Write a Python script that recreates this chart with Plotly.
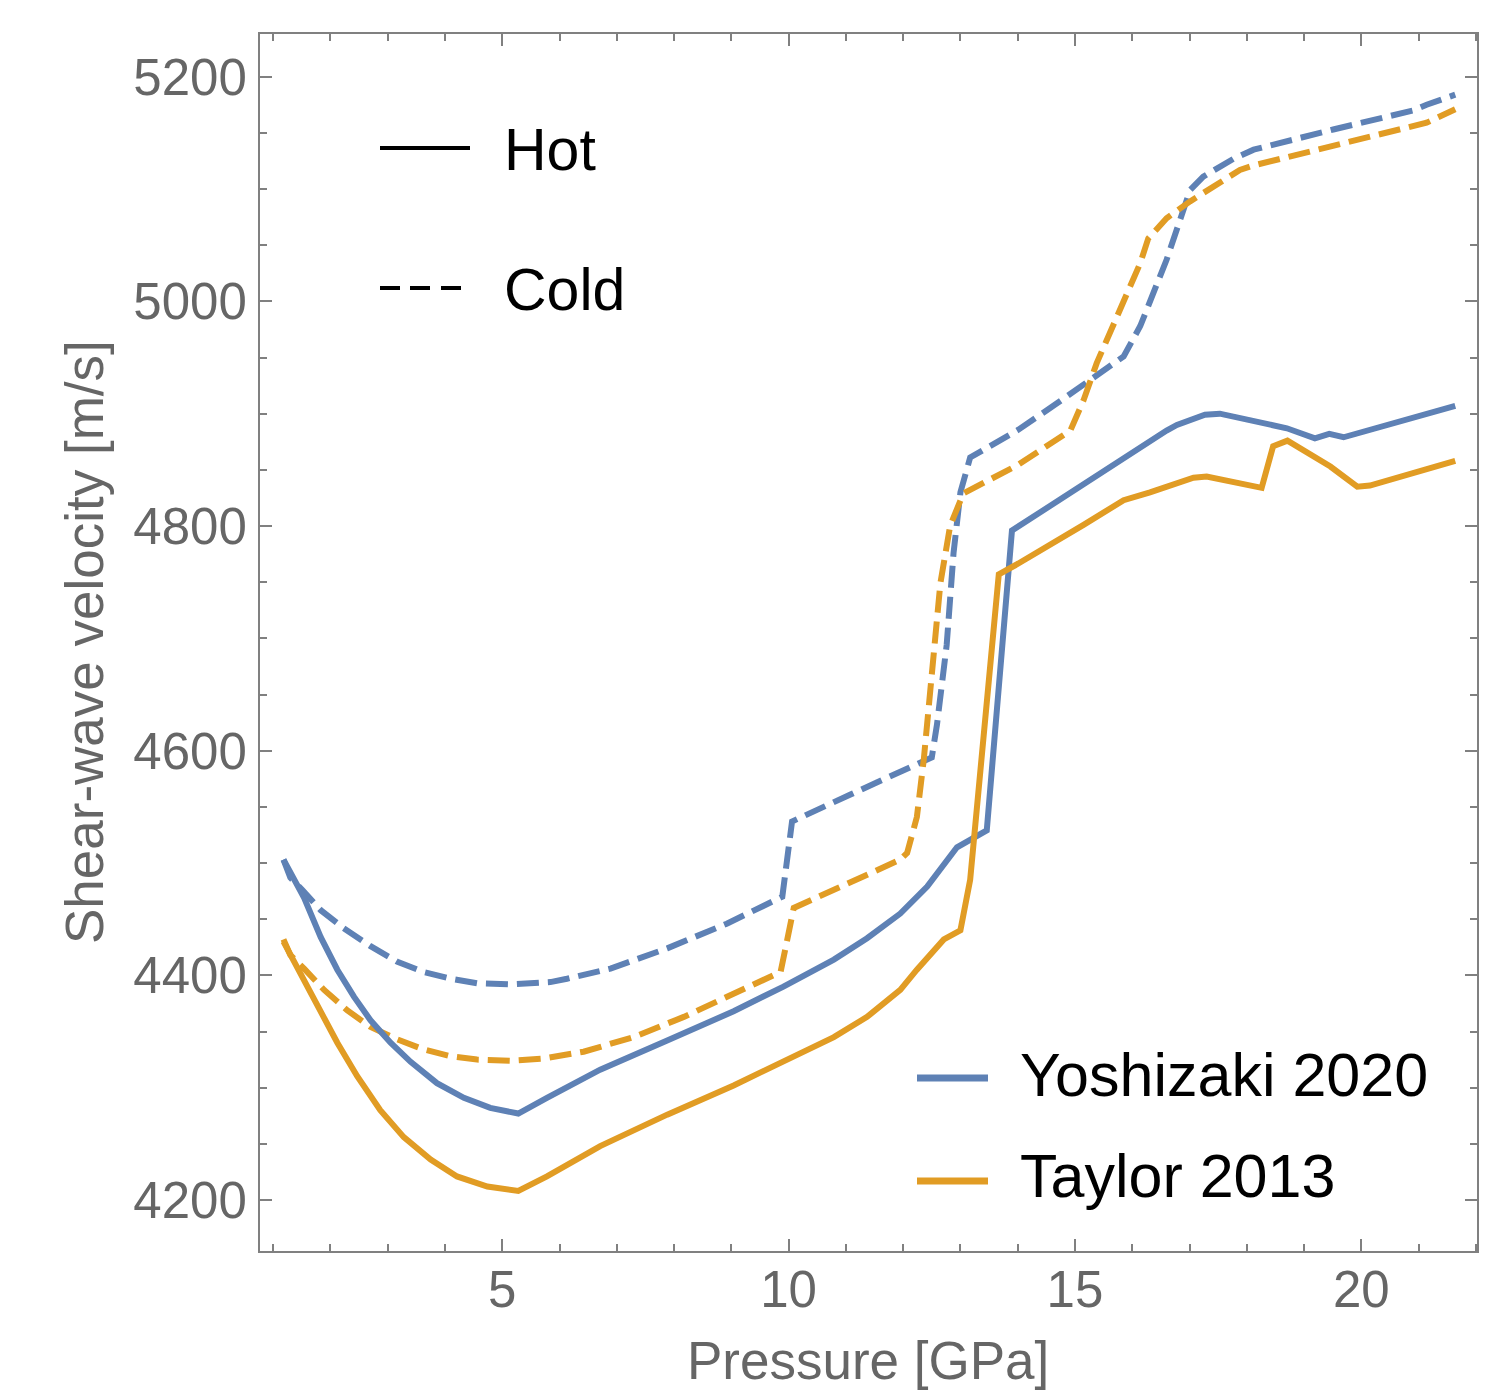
import plotly.graph_objects as go

# ---------------- data ----------------
yoshi_hot_p = [1.18, 1.54, 1.83, 2.12, 2.41, 2.70, 3.05, 3.40, 3.86, 4.33, 4.79, 5.28, 5.78,
               6.71, 7.88, 9.04, 9.91, 10.79, 11.37, 11.95, 12.42, 12.94, 13.46, 13.90, 14.57,
               15.50, 16.60, 16.78, 17.27, 17.53, 18.12, 18.70, 19.19, 19.44, 19.69, 21.64]
yoshi_hot_v = [4503, 4469, 4434, 4405, 4381, 4360, 4340, 4323, 4304, 4291, 4282, 4277, 4291,
               4316, 4342, 4368, 4390, 4414, 4433, 4455, 4479, 4514, 4529, 4796, 4818,
               4849, 4885, 4890, 4899, 4900, 4894, 4887, 4878, 4882, 4879, 4907]

yoshi_cold_p = [1.18, 1.30, 1.51, 1.83, 2.23, 2.70, 3.17, 3.63, 4.10, 4.56, 5.14, 5.84, 6.13,
                6.89, 7.88, 8.92, 9.89, 10.06, 11.08, 12.36, 12.50, 12.59, 12.76, 12.88, 13.00,
                13.17, 13.99, 14.68, 15.27, 15.85, 16.14, 16.60, 17.01, 17.24, 17.77, 18.12,
                19.51, 20.91, 21.14, 21.64]
yoshi_cold_v = [4503, 4487, 4476, 4458, 4442, 4426, 4412, 4403, 4397, 4393, 4392, 4394, 4397,
                4406, 4424, 4446, 4470, 4537, 4561, 4592, 4594, 4623, 4694, 4776, 4830,
                4861, 4885, 4909, 4930, 4951, 4978, 5037, 5099, 5111, 5127, 5135,
                5153, 5170, 5175, 5184]

taylor_hot_p = [1.18, 1.54, 1.83, 2.12, 2.47, 2.87, 3.28, 3.75, 4.21, 4.74, 5.28, 5.78, 6.71,
                7.88, 9.04, 9.91, 10.79, 11.37, 11.95, 12.24, 12.71, 13.00, 13.17, 13.67, 13.99,
                15.15, 15.85, 16.31, 17.07, 17.30, 18.26, 18.46, 18.71, 19.46, 19.93, 20.15, 21.64]
taylor_hot_v = [4430, 4396, 4366, 4340, 4310, 4280, 4256, 4236, 4221, 4212, 4208, 4221, 4248,
                4276, 4302, 4323, 4345, 4363, 4387, 4405, 4432, 4440, 4485, 4757, 4766,
                4801, 4823, 4830, 4843, 4844, 4834, 4871, 4876, 4853, 4835, 4836, 4858]

taylor_cold_p = [1.18, 1.30, 1.54, 1.89, 2.29, 2.70, 3.17, 3.63, 4.10, 4.56, 5.14, 5.72, 6.42,
                 7.29, 8.17, 9.04, 9.86, 10.09, 10.79, 11.95, 12.07, 12.24, 12.36, 12.50, 12.65,
                 12.82, 13.05, 13.99, 14.74, 14.92, 15.15, 15.38, 15.73, 16.14, 16.28, 16.60,
                 17.01, 17.88, 18.12, 19.51, 20.97, 21.14, 21.64]
taylor_cold_v = [4432, 4418, 4406, 4387, 4369, 4354, 4343, 4334, 4328, 4325, 4324, 4326, 4332,
                 4345, 4363, 4384, 4403, 4460, 4476, 4503, 4509, 4541, 4592, 4674, 4749,
                 4800, 4829, 4854, 4878, 4885, 4912, 4945, 4986, 5034, 5056, 5074,
                 5089, 5117, 5121, 5138, 5156, 5159, 5171]

x_ticks = [5, 10, 15, 20]
y_ticks = [4200, 4400, 4600, 4800, 5000, 5200]

series_names = ["Yoshizaki 2020", "Taylor 2013"]
style_names = ["Hot", "Cold"]
x_title = "Pressure [GPa]"
y_title = "Shear-wave velocity [m/s]"

BLUE = "#5E81B5"
ORANGE = "#E19C24"
AXIS = "#808080"
LABEL = "#666666"
FONT = "Liberation Sans, Arial, Helvetica, sans-serif"
DASH = "22px,9px"

fig = go.Figure()
for p, v, c, d in [
    (yoshi_cold_p, yoshi_cold_v, BLUE, DASH),
    (taylor_cold_p, taylor_cold_v, ORANGE, DASH),
    (yoshi_hot_p, yoshi_hot_v, BLUE, "solid"),
    (taylor_hot_p, taylor_hot_v, ORANGE, "solid"),
]:
    fig.add_trace(go.Scatter(x=p, y=v, mode="lines",
                             line=dict(color=c, width=6, dash=d),
                             showlegend=False, hoverinfo="skip"))

# ---------------- layout ----------------
L, R, T, B = 260, 11, 34, 143
W, H = 1488, 1394
pw, ph = W - L - R, H - T - B


def px(x):
    return (x - L) / pw


def py(y):
    return (H - B - y) / ph


axis_common = dict(
    showline=True, linecolor=AXIS, linewidth=2, mirror="ticks",
    ticks="inside", tickcolor=AXIS, tickwidth=1.5, ticklen=12,
    showgrid=False, zeroline=False, automargin=False,
    tickfont=dict(family=FONT, size=51, color=LABEL),
)

fig.update_layout(
    width=W, height=H, autosize=False,
    margin=dict(l=L, r=R, t=T, b=B, pad=0),
    paper_bgcolor="white", plot_bgcolor="white",
    showlegend=False,
    xaxis=dict(range=[0.77, 22.02], tickvals=x_ticks,
               minor=dict(dtick=1, tick0=0, ticks="inside", ticklen=7,
                          tickcolor=AXIS, tickwidth=1.5, showgrid=False),
               ticklabelstandoff=-7,
               **axis_common),
    yaxis=dict(range=[4154.6, 5238], tickvals=y_ticks,
               minor=dict(dtick=50, tick0=0, ticks="inside", ticklen=7,
                          tickcolor=AXIS, tickwidth=1.5, showgrid=False),
               ticklabelstandoff=1,
               **axis_common),
)

# axis titles
TITLE_FONT = dict(family=FONT, size=53, color=LABEL)
fig.add_annotation(text=x_title, xref="paper", yref="paper",
                   x=px(868), y=py(1360), xanchor="center", yanchor="middle",
                   showarrow=False, font=TITLE_FONT)
fig.add_annotation(text=y_title, xref="paper", yref="paper", textangle=-90,
                   x=px(84), y=py(642), xanchor="center", yanchor="middle",
                   showarrow=False, font=TITLE_FONT)

# ---------------- legends (drawn as keys + text) ----------------
# line-style legend
fig.add_shape(type="line", xref="paper", yref="paper",
              x0=px(380), x1=px(470), y0=py(148), y1=py(148),
              line=dict(color="black", width=4))
for a, b in [(380, 400), (410, 430), (441, 461)]:
    fig.add_shape(type="line", xref="paper", yref="paper",
                  x0=px(a), x1=px(b), y0=py(288), y1=py(288),
                  line=dict(color="black", width=4))
for name, yc in zip(style_names, [150, 290]):
    fig.add_annotation(text=name, xref="paper", yref="paper",
                       x=px(502), y=py(yc), xanchor="left", yanchor="middle",
                       showarrow=False, font=dict(family=FONT, size=59, color="black"))

# colour legend
for name, col, yl, yt in zip(series_names, [BLUE, ORANGE], [1078, 1181], [1075, 1176]):
    fig.add_shape(type="line", xref="paper", yref="paper",
                  x0=px(917), x1=px(988), y0=py(yl), y1=py(yl),
                  line=dict(color=col, width=7))
    fig.add_annotation(text=name, xref="paper", yref="paper",
                       x=px(1018), y=py(yt), xanchor="left", yanchor="middle",
                       showarrow=False, font=dict(family=FONT, size=61, color="black"))

# remove the default 8px page margin so the figure sits at the window origin
fig.write_html("out.html", config={"displayModeBar": False},
               post_script="document.body.style.margin='0px';")
